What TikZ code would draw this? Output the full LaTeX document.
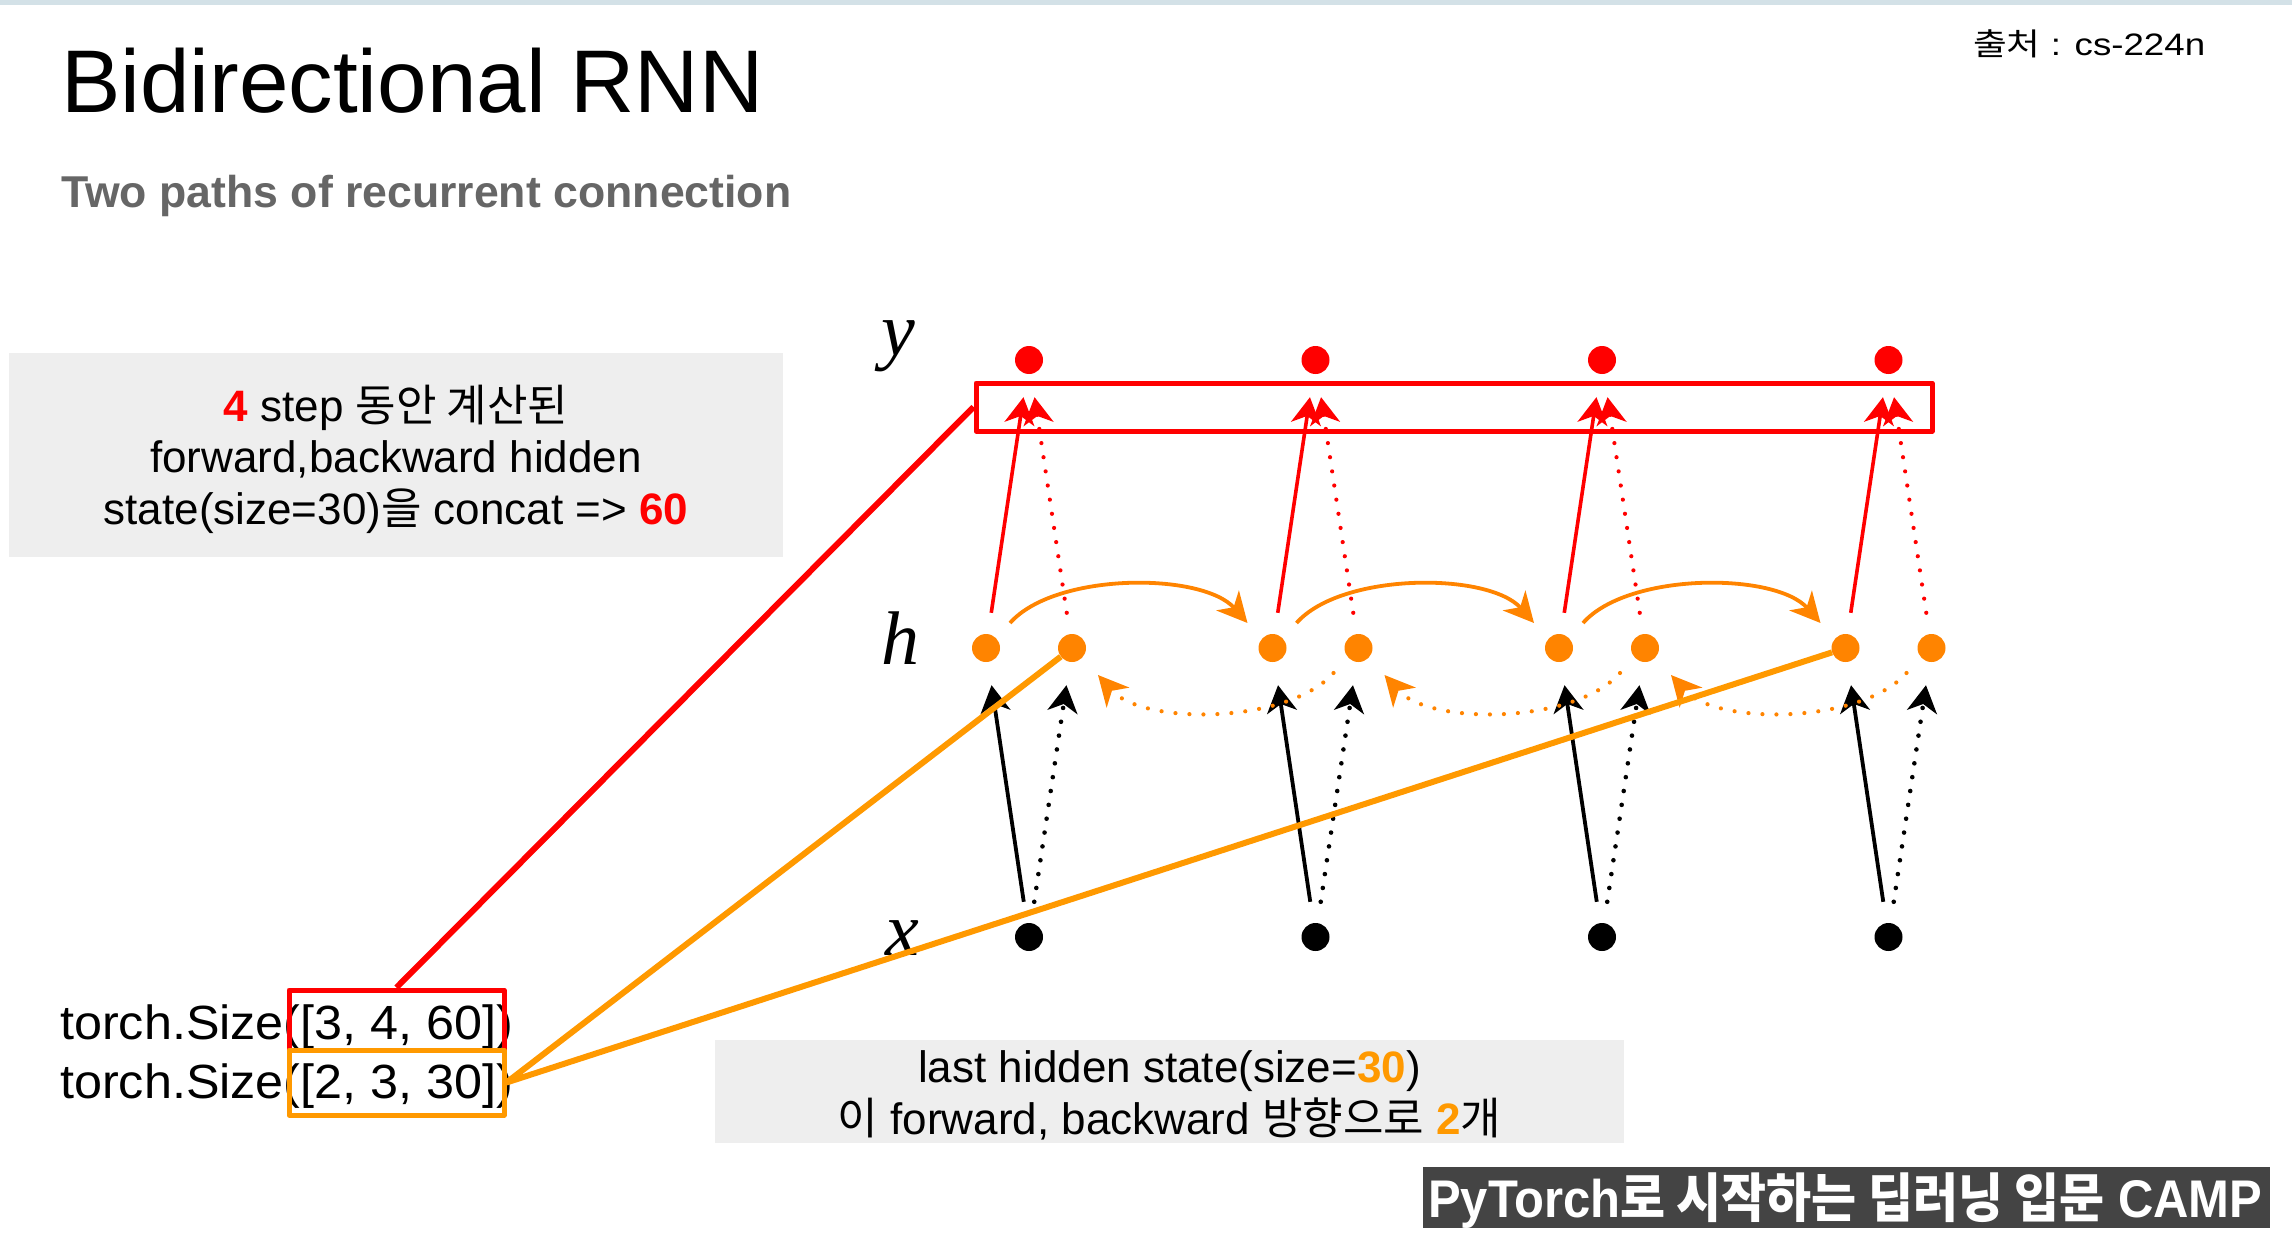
\documentclass[tikz,border=0pt]{standalone}
\usepackage{fontspec}
\setmainfont{Liberation Sans}
\newfontfamily\kr{Noto Sans CJK KR}
\newfontfamily\labelserif{Liberation Serif}
\usetikzlibrary{arrows.meta,calc}

\definecolor{redc}{HTML}{FF0000}
\definecolor{dotorange}{HTML}{FF8400}
\definecolor{lineorange}{HTML}{FF9900}
\definecolor{boxgray}{HTML}{EEEEEE}
\definecolor{subgray}{HTML}{666666}
\definecolor{footgray}{HTML}{444444}
\definecolor{band}{HTML}{D3E1E7}

\newcommand\setfs[1]{\fontsize{#1}{#1}\selectfont}
% stretch a line of text horizontally to a given width, keeping its height
\newcommand\fitwidth[2]{\resizebox{#1}{\height}{#2}}

\begin{document}
\begin{tikzpicture}[x=1pt,y=-1pt,
  txt/.style={inner sep=0pt,anchor=base},
  dotnode/.style={circle,inner sep=0pt,minimum size=28pt},
  tipA/.style={-{Stealth[length=27pt,width=30pt,inset=8pt]}},
  redsolid/.style={tipA,draw=redc,line width=3.6pt,shorten <=21.4pt,shorten >=23.4pt},
  reddot/.style={tipA,draw=redc,line width=4.2pt,line cap=round,dash pattern=on 0pt off 14.3pt,shorten <=21.4pt,shorten >=23.4pt},
  blksolid/.style={tipA,draw=black,line width=3.8pt,shorten <=21.4pt,shorten >=23.4pt},
  blkdot/.style={tipA,draw=black,line width=4.6pt,line cap=round,dash pattern=on 0pt off 14pt,shorten <=21.4pt,shorten >=23.4pt},
  orsolid/.style={-{Stealth[length=30pt,width=30pt,inset=9pt]},draw=dotorange,line width=3.8pt},
  ordot/.style={-{Stealth[length=30pt,width=30pt,inset=9pt]},draw=dotorange,line width=4.2pt,line cap=round,dash pattern=on 0pt off 14pt},
  graybox/.style={fill=boxgray,inner sep=0pt},
  hilite/.style={draw,line width=5pt,inner sep=0pt,line join=round},
  link/.style={line width=6pt}]
\useasboundingbox (0,0) rectangle (2292,1244);
\fill[white] (0,0) rectangle (2292,1244);
\fill[band] (0,0) rectangle (2292,5);

% heading
\node[txt,anchor=base west] (title) at (61,113) {\setfs{89}Bidirectional RNN};
\node[txt,anchor=base west,text=subgray] (subtitle) at (61,207) {\setfs{44.6}\bfseries Two paths of recurrent connection};
\node[txt,anchor=base west] (source) at (1973,56) {\setfs{31}\fitwidth{232pt}{{\kr 출처} : cs-224n}};

% explanation boxes
\node[graybox,minimum width=774pt,minimum height=204pt] (note1) at (396,455) {};
\node[txt] (n1a) at (396,421) {\setfs{44}{\bfseries\color{redc}4} step {\kr 동안 계산된}};
\node[txt] (n1b) at (396,472.5) {\setfs{44}forward,backward hidden};
\node[txt] (n1c) at (396,524) {\setfs{44}state(size=30){\kr 을} concat => {\bfseries\color{redc}60}};

\node[graybox,minimum width=909pt,minimum height=103pt] (note2) at (1169.5,1091.5) {};
\node[txt] (n2a) at (1169.5,1082) {\setfs{44}last hidden state(size={\bfseries\color{lineorange}30})};
\node[txt] (n2b) at (1169.5,1134) {\setfs{44}{\kr 이} forward, backward {\kr 방향으로} {\bfseries\color{lineorange}2}{\kr 개}};

% row labels
\node[txt] (ylab) at (898,355) {\setfs{76}\labelserif\itshape y};
\node[txt] (hlab) at (900,664) {\setfs{76}\labelserif\itshape h};
\node[txt] (xlab) at (902,955) {\setfs{76}\labelserif\itshape x};

% units: outputs, forward/backward hidden states, inputs
\foreach \i/\xc in {1/1029,2/1315.5,3/1602,4/1888.5}{
  \node[dotnode,fill=redc] (y\i) at (\xc,360) {};
  \node[dotnode,fill=dotorange] (hL\i) at (\xc-43,648) {};
  \node[dotnode,fill=dotorange] (hR\i) at (\xc+43,648) {};
  \node[dotnode,fill=black] (x\i) at (\xc,937) {};
}

% vertical connections
\foreach \i in {1,2,3,4}{
  \draw[redsolid] (hL\i) -- (y\i);
  \draw[reddot] (hR\i) -- (y\i);
  \draw[blksolid] (x\i) -- (hL\i);
  \draw[blkdot] (x\i) -- (hR\i);
}

% recurrent connections
\foreach \i/\j in {1/2,2/3,3/4}{
  \draw[orsolid] ($(hL\i)+(24,-25)$) .. controls ($(hL\i)+(69,-76)$) and ($(hL\j)+(-70,-76)$) .. ($(hL\j)+(-25,-25)$);
  \draw[ordot] ($(hR\j)+(-25,25)$) .. controls ($(hR\j)+(-70,76)$) and ($(hR\i)+(71,78)$) .. ($(hR\i)+(26,27)$);
}

% concatenated outputs
\node[hilite,draw=redc,minimum width=956pt,minimum height=48pt] (cat) at (1454,407) {};

% tensor sizes
\node[txt,anchor=base west] (out) at (60,1039) {\setfs{48}\fitwidth{453pt}{torch.Size([3, 4, 60])}};
\node[txt,anchor=base west] (hid) at (60,1098) {\setfs{48}\fitwidth{453pt}{torch.Size([2, 3, 30])}};
\node[hilite,draw=redc,minimum width=215pt,minimum height=60pt] (rb) at (396.5,1020) {};
\node[hilite,draw=lineorange,minimum width=215pt,minimum height=65pt] (ob) at (396.5,1082.5) {};

% links from sizes to the diagram
\draw[link,redc] (rb.north) -- (cat.west);
\draw[link,lineorange] (ob.east) -- (hR1);
\draw[link,lineorange] (ob.east) -- (hL4);

% footer banner
\node[fill=footgray,inner sep=0pt,minimum width=847pt,minimum height=61pt] (banner) at (1846.5,1197.5) {};
\node[txt,anchor=base west,text=white] (bannertext) at (1428,1217) {\setfs{53}\bfseries\fitwidth{834pt}{PyTorch{\kr 로 시작하는 딥러닝 입문} CAMP}};
\end{tikzpicture}
\end{document}
